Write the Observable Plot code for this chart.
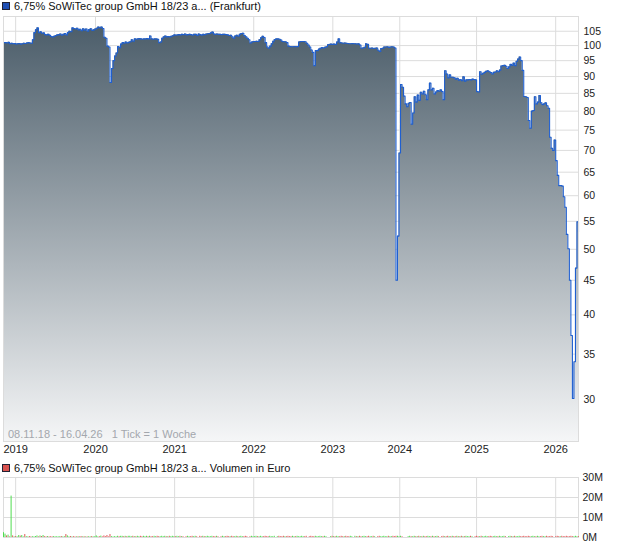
<!DOCTYPE html>
<html><head><meta charset="utf-8">
<script src="https://cdn.jsdelivr.net/npm/d3@7"></script>
<script src="https://cdn.jsdelivr.net/npm/@observablehq/plot@0.6"></script>
<style>
body{margin:0;background:#fff;font-family:"Liberation Sans",Arial,sans-serif;}
#wrap{position:relative;width:620px;height:546px;overflow:hidden;}
.box{position:absolute;left:0;}
.leg{position:absolute;left:2px;font-size:11px;color:#111;white-space:nowrap;line-height:13px;}
.sq{display:inline-block;width:6px;height:6px;border:1px solid #223;margin-right:4px;}
.note{position:absolute;left:8px;top:428px;font-size:11px;line-height:13px;color:#a3a7ad;white-space:pre;}
</style></head><body><div id="wrap"></div>
<script>
const title = "6,75% SoWiTec group GmbH 18/23 a...";
const yearLabels = ["2019","2020","2021","2022","2023","2024","2025","2026"];
const yearPos = [8, 60.5, 112.5, 164.5, 216.5, 260.5, 311, 363];
const priceTicks = [30,35,40,45,50,55,60,65,70,75,80,85,90,95,100,105];
const volTicks = [0,10,20,30];
// weekly closing prices, 08.11.18 - 16.04.26
const prices = [
101.0,101.0,100.9,101.1,100.6,
100.8,100.6,100.7,100.5,100.6,100.7,100.5,100.6,100.8,100.7,
100.9,101.0,100.9,100.8,
102.0,104.5,105.5,106.2,
104.5,104.8,104.3,104.4,
103.8,103.7,103.9,103.6,
103.1,103.0,103.2,103.5,103.7,103.8,
104.0,103.6,103.9,104.2,103.7,
104.5,105.0,104.8,
106.2,106.0,105.8,106.1,105.5,105.7,105.2,105.9,
105.4,105.8,105.0,105.6,105.9,105.3,
105.5,105.8,106.1,106.5,106.3,
106.5,106.0,102.9,102.5,99.8,99.5,
88.2,92.5,95.0,96.5,97.5,99.7,99.3,100.5,
101.0,100.8,101.2,100.9,101.1,101.3,102.0,101.5,
102.3,102.2,102.3,102.4,102.3,102.2,102.3,102.3,102.4,102.3,
103.3,102.3,102.2,102.3,102.3,102.2,
101.0,101.2,102.5,
103.0,103.3,103.0,103.1,103.0,103.2,
103.4,103.7,103.6,
103.7,103.8,103.7,103.9,103.8,104.0,103.7,103.8,103.9,103.8,103.6,103.9,
103.9,103.5,104.0,103.8,103.6,103.9,
103.8,104.0,104.1,104.2,104.4,104.7,
104.0,103.9,104.0,103.9,103.9,103.8,103.9,103.9,103.8,103.7,103.5,103.6,
103.0,102.5,103.3,103.6,103.2,103.9,
104.2,104.3,103.5,103.0,102.5,102.0,
100.9,101.2,101.4,101.4,101.5,101.4,102.0,
102.7,103.2,102.8,101.0,99.5,99.1,99.8,100.6,101.5,
102.1,102.3,102.3,102.2,101.9,101.4,101.3,101.3,101.0,
99.8,99.7,99.6,99.6,99.7,99.6,99.7,
101.2,101.4,101.4,101.4,101.3,
100.8,100.2,99.5,98.5,97.7,93.4,98.3,
98.3,98.8,99.1,99.3,99.2,99.4,
99.6,100.3,100.4,100.5,100.4,100.5,100.4,
101.2,102.3,101.0,100.9,100.8,100.9,100.8,100.7,
100.6,100.6,100.7,100.6,100.6,100.5,100.6,
100.2,99.1,99.2,99.4,100.6,100.4,
99.1,99.1,99.2,99.0,99.1,99.2,
98.4,98.0,99.0,99.1,
99.5,99.5,99.6,99.4,99.5,99.6,99.5,
99.2,45.0,52.3,69.4,87.6,
86.8,84.2,82.0,81.2,82.2,82.4,76.5,79.5,
84.0,82.5,84.5,83.0,85.3,84.8,85.6,84.6,83.2,
86.0,88.0,86.0,86.5,84.8,85.4,85.8,85.6,86.0,85.5,83.2,
91.8,90.8,89.6,90.5,89.8,
89.8,89.6,89.2,89.5,88.9,89.1,88.7,89.9,88.6,89.0,
89.0,89.1,89.0,89.2,89.1,89.0,
85.5,85.4,91.5,90.7,
91.0,91.3,91.6,91.8,91.5,91.2,90.8,91.3,
91.4,91.8,91.5,92.0,93.3,93.4,
93.5,93.2,92.5,93.0,93.8,93.5,
94.2,93.4,94.8,95.5,96.2,95.0,
91.9,84.1,84.0,83.8,77.5,75.5,
80.0,80.2,84.0,82.0,82.5,84.4,
82.3,81.8,82.0,82.3,81.5,80.8,
73.2,70.5,70.0,72.5,67.6,64.3,
62.1,62.1,62.0,59.8,57.7,52.6,
50.1,45.0,37.3,30.1,34.1,46.9,54.9,53.0
];
// weekly turnover in million euro
const volumes = [
2.4,1.7,0.8,1.2,0.3,20.7,0.8,0.3,0.5,0.3,1.0,0.7,1.0,0.3,1.5,
0.4,0.3,0.5,0.3,0.4,0.3,0.5,0.8,0.3,0.8,0.5,1.0,0.4,0.3,0.5,
0.3,0.4,0.3,0.5,0.3,0.4,0.3,0.4,0.5,0.3,0.4,1.5,0.8,0.3,0.5,
0.3,0.4,0.3,0.3,0.4,0.3,0.5,0.3,0.4,0.3,0.3,0.4,0.3,0.5,0.3,
0.4,0.8,0.3,0.4,0.7,0.3,0.8,0.4,1.0,0.3,1.5,0.4,0.3,0.4,0.3,
0.6,0.4,0.6,0.6,0.4,0.6,0.4,0.6,0.6,0.4,0.6,0.4,0.4,0.6,0.4,0.6,0.4,0.6,0.4,0.6,
0.4,0.6,0.4,0.4,0.6,0.4,0.6,0.4,0.4,0.6,0.4,0.6,0.4,0.4,0.6,0.4,0.6,0.4,0.4,0.6,
0.4,0.6,0.4,0.4,0,0.4,0.6,0.4,0.4,0.6,0.4,0.6,0.4,0,0.6,0.4,0.6,0.4,0.4,0.6,
0.4,0.4,0.6,0.4,0.4,0.6,0.4,0,0.4,0.6,0.4,0.4,0.6,0.4,0.4,0.6,0.4,0.4,0.6,0.4,
0.4,0.6,0.4,0.4,0.6,0.4,0,0.4,0.6,0.4,0.4,0.6,0.4,0.4,0.6,0.4,0.4,0.6,0.4,0.4,
0.6,0.4,0.4,0.6,0,0.4,0.6,0.4,0.4,0.6,0.4,0.4,0.6,0.4,0.4,0.6,0.4,0.4,0.6,0.4,
0.4,0.6,0.4,0.4,0.6,0,0.4,0.6,0.4,0.4,0.6,0.4,0.4,0.6,0.4,0.4,0.6,0.4,0,0,
0.4,0.6,0.4,0.4,0.6,0.4,0.4,0.6,0.4,0.4,0.6,0.4,0.4,0.6,0.4,0,0.6,0.4,0.4,0.6,
0.4,0.4,0.6,0.4,0.4,0.6,0.4,0.4,0.6,0.4,0,0.4,0.6,0.4,0.4,0.6,0.4,0.4,0.6,0.4,
0.4,0.6,0.4,0.6,0.6,0.4,0.6,0.4,0,0,0,0.4,0.6,0.4,0.4,0.6,0.4,0.4,0.6,0.4,
0.4,0.6,0.4,0.4,0.6,0.4,0.4,0.6,0.4,0.4,0.6,0.4,0,0.4,0.6,0.4,0.4,0.6,0.4,0.4,
0.6,0.4,0.4,0.6,0.4,0.4,0.6,0.4,0.4,0.6,0.4,0.4,0.6,0.4,0,0.4,0.6,0.4,0.4,0.6,
0.4,0.4,0.6,0.4,0.4,0.6,0.4,0.4,0.6,0.4,0.4,0.6,0.4,0.4,0.6,0.4,0,0.4,0.6,0.4,
0.4,0.6,0.4,0.4,0.6,0.4,0.4,0.6,0.4,0.4,0.6,0.4,0.4,0.6,0.4,0.4,0.6,0.4,0.4,0.6,
0.4,0.4,0.6,0.4,0.4,0.6,0.4,0,0.4,0.6,0.4,0.4,0.6,0.4,0.4,0.6,0.4,0.4,0.6,0.4,
0.4,0.6,0.4,0.4
];

const W = 620;
const mL = 3, mR = 42;
const yMin = 26, yMax = 110.4;
const xDomain = [0, prices.length - 1];
const yearMap = new Map(yearPos.map((p, i) => [p, yearLabels[i]]));
const font = {fontFamily: "'Liberation Sans', Arial, sans-serif", fontSize: "11px", color: "#222", background: "transparent"};

const priceData = prices.map((p, i) => ({i, p}));
const volData = volumes.map((v, i) => ({i, v, up: i === 0 || prices[i] >= prices[i - 1]}));

const H1 = 462, mT1 = 16, mB1 = 21;
const gradient = () => {
  const defs = d3.create("svg:defs");
  const g = defs.append("linearGradient").attr("id", "pgrad")
    .attr("gradientUnits", "userSpaceOnUse")
    .attr("x1", 0).attr("x2", 0).attr("y1", mT1).attr("y2", H1 - mB1);
  g.append("stop").attr("offset", "0%").attr("stop-color", "#485a67");
  g.append("stop").attr("offset", "100%").attr("stop-color", "#f5f6f7");
  return defs.node();
};

const chart1 = Plot.plot({
  width: W, height: H1,
  marginTop: mT1, marginBottom: mB1, marginLeft: mL, marginRight: mR,
  style: font,
  x: {domain: xDomain, axis: null, label: null},
  y: {type: "log", domain: [yMin, yMax], axis: null, label: null},
  marks: [
    gradient,
    Plot.gridY(priceTicks, {y: d => d, stroke: "#dcdcdc", strokeOpacity: 1}),
    Plot.gridX(yearPos, {x: d => d, stroke: "#dcdcdc", strokeOpacity: 1}),
    Plot.areaY(priceData, {x: "i", y1: yMin, y2: "p", curve: "step-after", fill: "url(#pgrad)"}),
    Plot.lineY(priceData, {x: "i", y: "p", curve: "step-after", stroke: "#1f5fd0", strokeWidth: 1.1}),
    Plot.frame({stroke: "#dcdcdc"}),
    Plot.axisY(priceTicks, {y: d => d, anchor: "right", label: null, tickSize: 0, tickPadding: 5, tickFormat: d => String(d), fontSize: 10.5, fill: "#222"}),
    Plot.axisX(yearPos, {x: d => d, anchor: "bottom", label: null, tickSize: 0, tickPadding: 4, tickFormat: d => yearMap.get(d), fontSize: 11, fill: "#222"})
  ]
});

const H2 = 84, mT2 = 15, mB2 = 9;
const chart2 = Plot.plot({
  width: W, height: H2,
  marginTop: mT2, marginBottom: mB2, marginLeft: mL, marginRight: mR,
  style: font,
  x: {domain: xDomain, axis: null, label: null},
  y: {domain: [0, 30], axis: null, label: null},
  marks: [
    Plot.gridY(volTicks, {y: d => d, stroke: "#dcdcdc", strokeOpacity: 1}),
    Plot.gridX(yearPos, {x: d => d, stroke: "#dcdcdc", strokeOpacity: 1}),
    Plot.frame({stroke: "#dcdcdc"}),
    Plot.ruleX(volData.filter(d => d.v > 0), {x: "i", y1: 0, y2: "v", stroke: d => d.up ? "#4fdc4f" : "#e05a5a", strokeWidth: 1}),
    Plot.axisY(volTicks, {y: d => d, anchor: "right", label: null, tickSize: 0, tickPadding: 4, tickFormat: d => d + "M", fontSize: 10.5, fill: "#222"})
  ]
});

const wrap = document.getElementById("wrap");
chart1.classList.add("box"); chart1.style.top = "0px";
chart2.classList.add("box"); chart2.style.top = "462px";
wrap.appendChild(chart1);
wrap.appendChild(chart2);

function legend(top, color, text) {
  const d = document.createElement("div");
  d.className = "leg"; d.style.top = top + "px";
  const s = document.createElement("span"); s.className = "sq"; s.style.background = color;
  d.appendChild(s); d.appendChild(document.createTextNode(text));
  wrap.appendChild(d);
}
legend(0, "#1f4fb4", title + " (Frankfurt)");
legend(462, "#d9534f", title + " Volumen in Euro");
const note = document.createElement("div");
note.className = "note"; note.textContent = "08.11.18 - 16.04.26   1 Tick = 1 Woche";
wrap.appendChild(note);
</script></body></html>
